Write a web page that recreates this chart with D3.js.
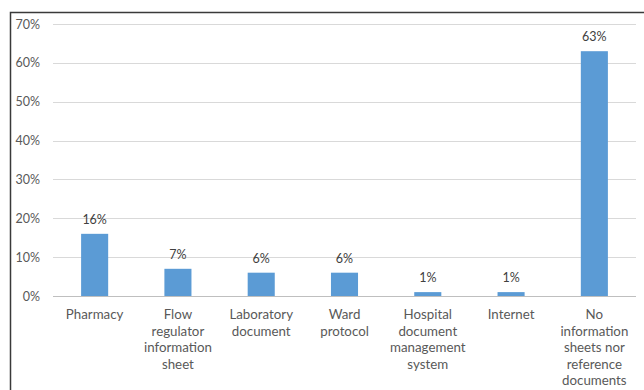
<!DOCTYPE html>
<html>
<head>
<meta charset="utf-8">
<script src="https://cdn.jsdelivr.net/npm/d3@7"></script>
<style>
  html, body { margin: 0; padding: 0; background: #fff; }
  svg { display: block; }
  text { font-family: Lato, "Open Sans", sans-serif; }
</style>
</head>
<body>
<svg id="chart" width="644" height="390"></svg>
<script>
// Sources of information consulted (share of respondents, %)
const categories = [
  ["Pharmacy"],
  ["Flow", "regulator", "information", "sheet"],
  ["Laboratory", "document"],
  ["Ward", "protocol"],
  ["Hospital", "document", "management", "system"],
  ["Internet"],
  ["No", "information", "sheets nor", "reference", "documents"]
];
const values = [16, 7, 6, 6, 1, 1, 63];
const yTicks = [0, 10, 20, 30, 40, 50, 60, 70];

const svg = d3.select("#chart");
const margin = { left: 53, right: 8, top: 24, bottom: 94 };
const W = 644, H = 390;

// outer frame (left and top edges visible)
svg.append("rect")
  .attr("x", 10.5).attr("y", 12.5)
  .attr("width", 660).attr("height", 420)
  .attr("fill", "none").attr("stroke", "#3a3a3a").attr("stroke-width", 1.5);

const x = d3.scaleBand()
  .domain(d3.range(categories.length))
  .range([margin.left, W - margin.right])
  .paddingInner(0.675).paddingOuter(0.3375);

const y = d3.scaleLinear().domain([0, 70]).range([296, 24]);

// gridlines
svg.append("g")
  .selectAll("line")
  .data(yTicks.filter(d => d > 0))
  .join("line")
  .attr("x1", margin.left).attr("x2", W - margin.right)
  .attr("y1", d => Math.round(y(d)) + 0.5).attr("y2", d => Math.round(y(d)) + 0.5)
  .attr("stroke", "#d9d9d9").attr("stroke-width", 1);

// y axis labels
const yAxis = d3.axisLeft(y).tickValues(yTicks).tickFormat(d => d + "%").tickSize(0).tickPadding(0);
const gy = svg.append("g").attr("transform", "translate(40,0)").call(yAxis);
gy.select(".domain").remove();
gy.selectAll("text")
  .attr("fill", "#595959").attr("font-size", 12.5)
  .attr("font-family", "Lato, 'Open Sans', sans-serif");

// bars
svg.append("g")
  .selectAll("rect")
  .data(values)
  .join("rect")
  .attr("x", (d, i) => x(i))
  .attr("width", x.bandwidth())
  .attr("y", d => y(d))
  .attr("height", d => y(0) - y(d))
  .attr("fill", "#5b9bd5");

// baseline
svg.append("line")
  .attr("x1", margin.left).attr("x2", W - margin.right)
  .attr("y1", Math.round(y(0)) + 0.5).attr("y2", Math.round(y(0)) + 0.5)
  .attr("stroke", "#bfbfbf").attr("stroke-width", 1);

// value labels
svg.append("g")
  .selectAll("text")
  .data(values)
  .join("text")
  .attr("x", (d, i) => x(i) + x.bandwidth() / 2)
  .attr("y", d => y(d) - 10)
  .attr("text-anchor", "middle")
  .attr("font-size", 12.5)
  .attr("fill", "#404040")
  .text(d => d + "%");

// category labels (multi-line)
const gx = svg.append("g");
categories.forEach((lines, i) => {
  const t = gx.append("text")
    .attr("x", x(i) + x.bandwidth() / 2)
    .attr("y", 319)
    .attr("text-anchor", "middle")
    .attr("font-size", 13.3)
    .attr("fill", "#595959");
  lines.forEach((ln, k) => {
    t.append("tspan")
      .attr("x", x(i) + x.bandwidth() / 2)
      .attr("dy", k === 0 ? 0 : 16.6)
      .text(ln);
  });
});
</script>
</body>
</html>
